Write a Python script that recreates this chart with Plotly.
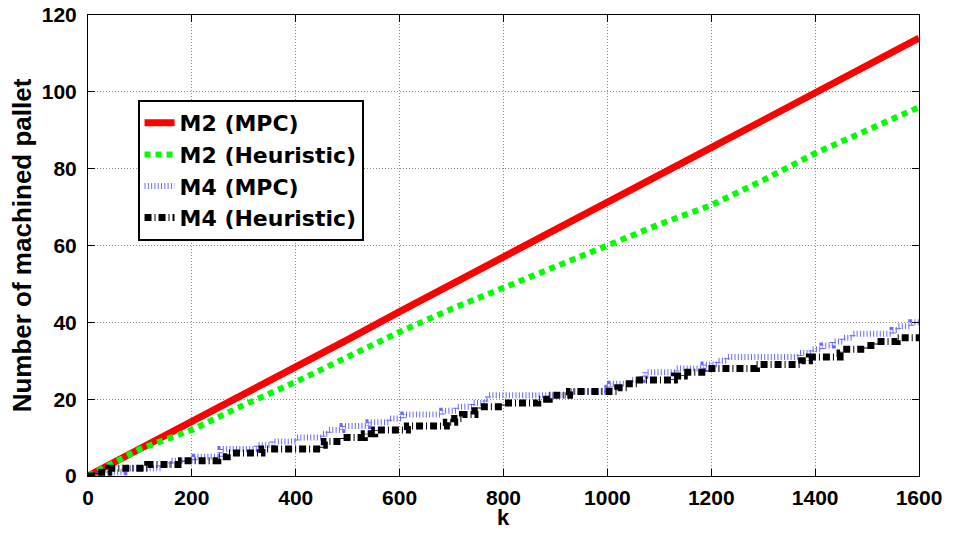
import plotly.graph_objects as go

# ---- data ----
k_m2 = [0, 100, 200, 300, 400, 500, 600, 700, 800, 900, 1000, 1100, 1200, 1300, 1400, 1500, 1600]
m2_mpc = [0, 7, 14, 21, 28.3, 35.5, 42.8, 50, 57, 64.2, 71.2, 78.3, 85.5, 92.6, 99.8, 107, 114]
m2_heur = [0, 7, 12, 18.5, 24.5, 31, 37.5, 43.5, 49, 54.5, 60, 65.5, 70.5, 77, 84, 90, 96]

k_m4_mpc = [0, 20, 70, 140, 160, 205, 255, 325, 355, 402, 452, 463, 490, 540, 580, 607, 682, 709,
            740, 765, 770, 927, 1000, 1005, 1045, 1068, 1073, 1133, 1185, 1212, 1230, 1370, 1393,
            1414, 1434, 1453, 1472, 1549, 1560, 1585, 1600]
m4_mpc = [0, 1, 2, 3, 4, 5, 7, 8, 9, 10, 11, 12, 13, 14, 15, 16, 17, 18,
          19, 20, 21, 22, 23, 24, 25, 26, 27, 28, 29, 30, 31, 32, 33,
          34, 35, 36, 37, 38, 39, 40, 40]

k_m4_heur = [0, 15, 40, 115, 180, 250, 268, 335, 450, 455, 487, 532, 552, 615, 690, 706, 721, 745,
             752, 800, 866, 888, 927, 1020, 1042, 1062, 1129, 1148, 1193, 1287, 1374, 1389, 1448,
             1453, 1499, 1518, 1558, 1600]
m4_heur = [0, 1, 2, 3, 4, 5, 6, 7, 8, 9, 10, 11, 12, 13, 14, 15, 16, 17,
           18, 19, 20, 21, 22, 23, 24, 25, 26, 27, 28, 29, 30, 31, 32,
           33, 34, 35, 36, 36]

x_ticks = [0, 200, 400, 600, 800, 1000, 1200, 1400, 1600]
y_ticks = [0, 20, 40, 60, 80, 100, 120]

FONT = "Liberation Sans, Arial, Helvetica, sans-serif"
LEGEND_FONT = "DejaVu Sans, Liberation Sans, Arial, sans-serif"

fig = go.Figure()
fig.add_trace(go.Scatter(x=k_m2, y=m2_mpc, mode="lines", name="M2 (MPC)",
                         line=dict(color="#ff0000", width=7)))
fig.add_trace(go.Scatter(x=k_m2, y=m2_heur, mode="lines", name="M2 (Heuristic)",
                         line=dict(color="#00ff00", width=6, dash="6px,5px")))
fig.add_trace(go.Scatter(x=k_m4_mpc, y=m4_mpc, mode="lines", name="M4 (MPC)",
                         line=dict(color="#6a6aff", width=6, dash="1px,2.3px", shape="hv")))
fig.add_trace(go.Scatter(x=k_m4_heur, y=m4_heur, mode="lines", name="M4 (Heuristic)",
                         line=dict(color="#000000", width=7, dash="7px,3px,1px,3px", shape="hv")))

axis_common = dict(
    showline=True, linecolor="black", linewidth=1, mirror="ticks",
    ticks="inside", ticklen=7, tickcolor="black", tickwidth=1,
    showgrid=True, gridcolor="#8c8c8c", griddash="1px,2px", gridwidth=1,
    zeroline=False, automargin=False, ticklabeloverflow="allow",
    tickfont=dict(family=FONT, size=21, color="black", weight="bold"),
)

fig.update_xaxes(range=[0, 1600], tickvals=x_ticks, ticktext=[str(v) for v in x_ticks],
                 ticklabelstandoff=3, **axis_common)
fig.update_yaxes(range=[0, 120], tickvals=y_ticks, ticktext=[str(v) for v in y_ticks],
                 title=dict(text="<b>Number of machined pallet</b>", font=dict(family=FONT, size=26, color="black"),
                            standoff=2),
                 ticklabelstandoff=6, **axis_common)

# x-axis title placed just under the tick labels
fig.add_annotation(text="<b>k</b>", xref="paper", yref="paper", x=0.5, y=0,
                   xanchor="center", yanchor="middle", yshift=-41, showarrow=False,
                   font=dict(family=FONT, size=22, color="black"))

fig.update_layout(
    width=956, height=534,
    margin=dict(l=88, r=37, t=15, b=58),
    plot_bgcolor="white", paper_bgcolor="white",
    legend=dict(x=0.0596, y=0.8156, xanchor="left", yanchor="top",
                bgcolor="white", bordercolor="black", borderwidth=2,
                font=dict(family=LEGEND_FONT, size=22, color="black", weight="bold"),
                itemwidth=30),
    showlegend=True,
)

# remove the default 8px page margin so the figure sits at the window's top-left corner
fig.write_html("out.html", config={"displayModeBar": False},
               post_script="document.body.style.margin='0';")
